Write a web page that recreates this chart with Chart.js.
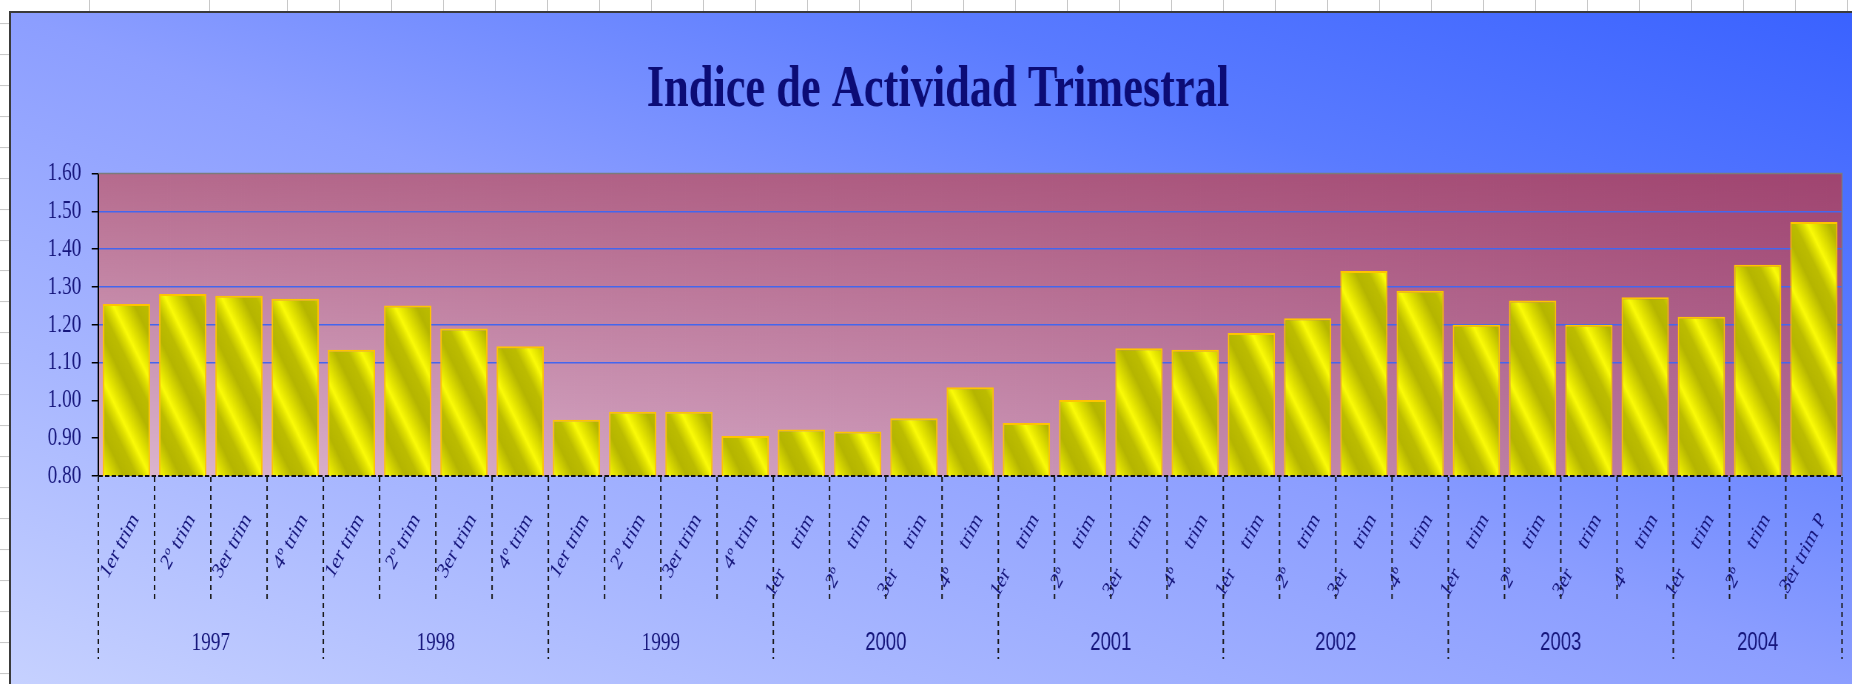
<!DOCTYPE html>
<html>
<head>
<meta charset="utf-8">
<script src="https://cdn.jsdelivr.net/npm/chart.js@4.4.1/dist/chart.umd.min.js"></script>
<style>
html, body { margin: 0; padding: 0; width: 1852px; height: 684px; overflow: hidden; background: #fff; }
.vline { position: absolute; top: 0; width: 1px; height: 12px; background: #c8c8c8; }
#cells { position: absolute; left: 236px; top: 0; width: 1616px; height: 12px;
  background: repeating-linear-gradient(to right, transparent 0 51px, #c8c8c8 51px 52px); }
#rows { position: absolute; left: 0; top: 0; width: 9px; height: 684px;
  background: repeating-linear-gradient(to bottom, transparent 0 29.94px, #c4c4c4 29.94px 30.94px);
  background-position: 0 -6.94px; }
#frame { position: absolute; left: 9px; top: 11px; width: 1841px; height: 671px;
  border-left: 2px solid #3a3a3a; border-top: 2px solid #3a3a3a; overflow: hidden;
  background: linear-gradient(to top right, #c6d1ff 0%, #a7b6ff 25%, #8c9eff 50%, #5a7bff 75%, #3a62ff 100%); }
#wrap { position: absolute; left: 0; top: 0; width: 2488px; height: 671px;
  transform: scaleX(0.73995); transform-origin: 0 0; }
</style>
</head>
<body>
<div class="vline" style="left:89px"></div>
<div class="vline" style="left:209px"></div>
<div id="cells"></div>
<div id="rows"></div>
<div id="frame">
  <div id="wrap"><canvas id="chart" width="2488" height="671"></canvas></div>
</div>
<script>
// Indice de Actividad Trimestral, 1997 - 2004
const years = ['1997', '1998', '1999', '2000', '2001', '2002', '2003', '2004'];
const quartersPerYear = [4, 4, 4, 4, 4, 4, 4, 3];
const quarterLabels = [
  '1er trim', '2º trim', '3er trim', '4º trim',
  '1er trim', '2º trim', '3er trim', '4º trim',
  '1er trim', '2º trim', '3er trim', '4º trim',
  '1er     trim', '2º     trim', '3er     trim', '4º     trim',
  '1er     trim', '2º     trim', '3er     trim', '4º     trim',
  '1er     trim', '2º     trim', '3er     trim', '4º     trim',
  '1er     trim', '2º     trim', '3er     trim', '4º     trim',
  '1er     trim', '2º     trim', '3er trim P'
];
const indice = [
  1.255, 1.281, 1.277, 1.269,
  1.134, 1.251, 1.190, 1.143,
  0.949, 0.970, 0.970, 0.906,
  0.923, 0.918, 0.953, 1.035,
  0.940, 1.001, 1.138, 1.134,
  1.178, 1.217, 1.342, 1.290,
  1.200, 1.264, 1.200, 1.273,
  1.221, 1.359, 1.472
];
const yTicks = { min: 0.8, max: 1.6, step: 0.1 };

const navy = '#16167c';
const BAR_PCT = 0.84;

// striped yellow fill, one gradient per bar
function barFill(c) {
  const chart = c.chart;
  if (c.dataIndex === undefined || !chart.chartArea) return '#e6e600';
  const { x, y } = chart.scales;
  const step = x.getPixelForValue(1) - x.getPixelForValue(0);
  const w = step * BAR_PCT;
  const xl = x.getPixelForValue(c.dataIndex) - w / 2;
  const yb = y.getPixelForValue(yTicks.min);
  const h = yb - y.getPixelForValue(indice[c.dataIndex]);
  const tw = w, th = w * 1.5;
  const n = Math.ceil(1 + h / th) + 1;
  const lam = n / (1 / (tw * tw) + 1 / (th * th));
  const g = chart.ctx.createLinearGradient(xl, yb, xl + lam / tw, yb - lam / th);
  const stops = [[0, '#fbfb08'], [0.15, '#e4e400'], [0.45, '#b5b500'], [0.72, '#bcbc00'], [0.9, '#e2e200']];
  for (let k = 0; k < n; k++) {
    stops.forEach(s => g.addColorStop((k + s[0]) / n, s[1]));
  }
  g.addColorStop(1, '#fbfb08');
  return g;
}

const decor = {
  id: 'decor',
  afterLayout(chart) {
    chart.titleBlock.left += 31;
  },
  beforeDraw(chart) {
    const { ctx, chartArea: a } = chart;
    ctx.save();
    const gh = ctx.createLinearGradient(a.left, 0, a.right, 0);
    gh.addColorStop(0, '#dcb6d0');
    gh.addColorStop(0.5, '#cc98b8');
    gh.addColorStop(1, '#b4709a');
    ctx.fillStyle = gh;
    ctx.fillRect(a.left, a.top, a.right - a.left, a.bottom - a.top);
    const gv = ctx.createLinearGradient(0, a.top, 0, a.bottom);
    gv.addColorStop(0, 'rgba(135,15,60,0.45)');
    gv.addColorStop(1, 'rgba(135,15,60,0)');
    ctx.fillStyle = gv;
    ctx.fillRect(a.left, a.top, a.right - a.left, a.bottom - a.top);
    ctx.restore();
  },
  afterDatasetsDraw(chart) {
    const { ctx, chartArea: a, scales: { x } } = chart;
    const step = x.getPixelForValue(1) - x.getPixelForValue(0);
    const x0 = x.getPixelForValue(0) - step / 2;
    ctx.save();
    // plot border top / right
    ctx.strokeStyle = '#7b7b7b';
    ctx.lineWidth = 1.5;
    ctx.beginPath();
    ctx.moveTo(a.left, a.top); ctx.lineTo(a.right, a.top); ctx.lineTo(a.right, a.bottom);
    ctx.stroke();
    // dashed base line
    ctx.strokeStyle = '#111';
    ctx.lineWidth = 2;
    ctx.setLineDash([6, 3]);
    ctx.beginPath();
    ctx.moveTo(a.left, a.bottom); ctx.lineTo(a.right, a.bottom);
    ctx.stroke();
    // category separators
    const yearEdges = [0];
    quartersPerYear.forEach(q => yearEdges.push(yearEdges[yearEdges.length - 1] + q));
    ctx.setLineDash([5, 4]);
    ctx.lineWidth = 2;
    ctx.strokeStyle = '#1a1a1a';
    for (let i = 0; i <= indice.length; i++) {
      const bx = x0 + i * step;
      const bottom = yearEdges.includes(i) ? 646 : 586;
      ctx.beginPath();
      ctx.moveTo(bx, a.bottom + 1); ctx.lineTo(bx, bottom);
      ctx.stroke();
    }
    // year labels
    ctx.fillStyle = navy;
    ctx.textAlign = 'center';
    ctx.textBaseline = 'middle';
    years.forEach((yr, k) => {
      const cx = x0 + (yearEdges[k] + yearEdges[k + 1]) / 2 * step;
      ctx.font = k < 3 ? '26px "Liberation Serif"' : '25px "Liberation Sans"';
      ctx.fillText(yr, cx, 630);
    });
    ctx.restore();
  }
};

new Chart(document.getElementById('chart'), {
  type: 'bar',
  data: {
    labels: quarterLabels,
    datasets: [{
      data: indice,
      backgroundColor: barFill,
      borderColor: '#ffc400',
      borderWidth: 2,
      borderSkipped: 'bottom',
      barPercentage: BAR_PCT,
      categoryPercentage: 1
    }]
  },
  options: {
    responsive: false,
    animation: false,
    layout: { padding: { left: 0, right: 13.5, top: 0, bottom: 0 } },
    plugins: {
      legend: { display: false },
      tooltip: { enabled: false },
      title: {
        display: true,
        text: 'Indice de Actividad Trimestral',
        color: '#0c0c76',
        font: { family: 'Liberation Serif', size: 60, weight: 'bold', lineHeight: 1.2 },
        padding: { top: 41, bottom: 47.5 }
      }
    },
    scales: {
      x: {
        offset: true,
        grid: { display: false },
        border: { display: false },
        ticks: {
          autoSkip: false,
          minRotation: 55,
          maxRotation: 55,
          color: navy,
          font: { family: 'Liberation Serif', size: 23 },
          padding: 24,
          labelOffset: 12
        },
        afterFit: s => { s.height = 208; s.paddingLeft = 0; s.paddingRight = 0; }
      },
      y: {
        min: yTicks.min,
        max: yTicks.max,
        ticks: {
          stepSize: yTicks.step,
          color: navy,
          font: { family: 'Liberation Serif', size: 26 },
          padding: 14,
          callback: v => v.toFixed(2)
        },
        grid: {
          color: c => (c.tick && c.tick.value > 1.05 && c.tick.value < 1.55) ? '#4466ee' : 'rgba(0,0,0,0)',
          lineWidth: 1.5,
          tickColor: '#000',
          tickLength: 9
        },
        border: { color: '#000', width: 2 },
        afterFit: s => { s.width = 118; }
      }
    }
  },
  plugins: [decor]
});
</script>
</body>
</html>
